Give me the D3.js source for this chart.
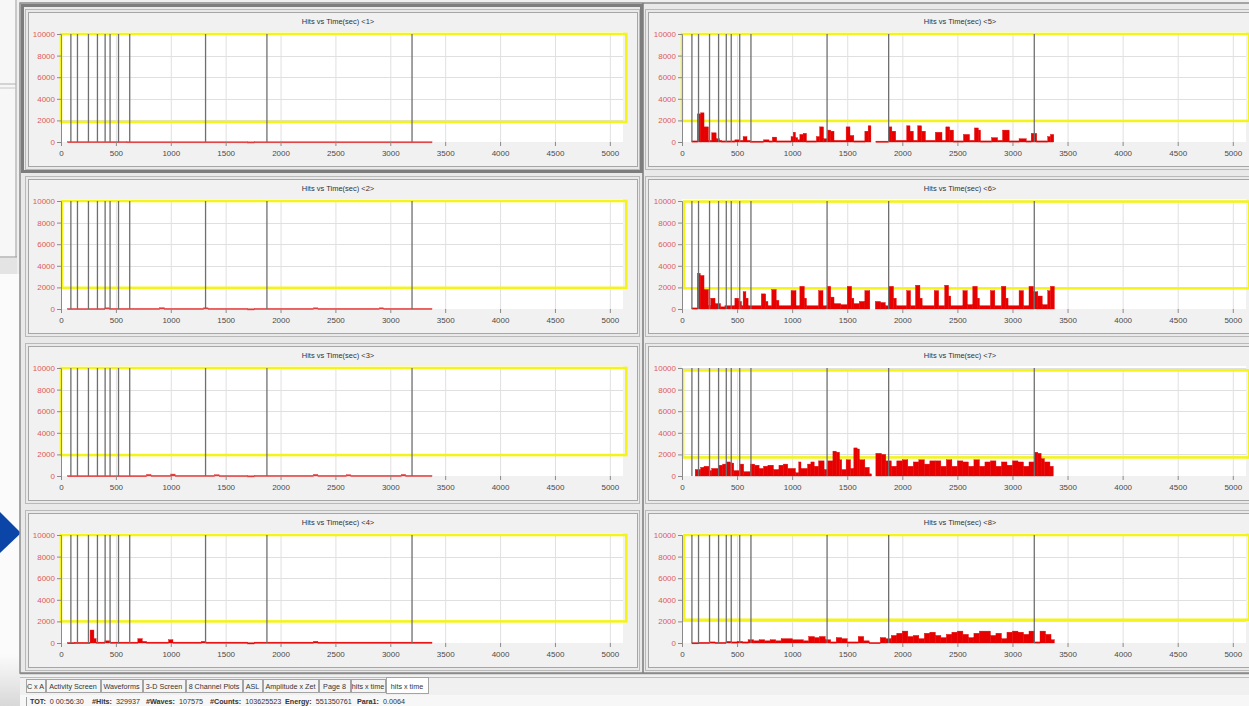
<!DOCTYPE html>
<html>
<head>
<meta charset="utf-8">
<script src="https://cdn.jsdelivr.net/npm/d3@7"></script>
<style>
  html, body { margin: 0; padding: 0; background: #f0f0f0; overflow: hidden; }
  svg { display: block; }
  text { font-family: "Liberation Sans Narrow", "Liberation Sans", Arial, sans-serif; }
</style>
</head>
<body>
<script>
// ---- data: hit counts per time step for each channel, [startSec, endSec, hits] ----
const channelNames = ["1", "2", "3", "4", "5", "6", "7", "8"];

const hits1 = [[60,600,40],[600,1700,30],[1700,1760,15],[1760,3380,30]];
const hits2 = [[60,400,50],[400,440,110],[440,900,60],[900,940,120],[940,1300,60],[1300,1340,110],[1340,1700,60],
  [1700,1760,20],[1760,2300,60],[2300,2340,110],[2340,2900,60],[2900,2940,110],[2940,3380,60]];
const hits3 = [[60,780,40],[780,820,150],[820,1000,60],[1000,1040,180],[1040,1400,60],[1400,1440,120],[1440,1700,50],
  [1700,1760,20],[1760,2300,60],[2300,2340,150],[2340,2600,60],[2600,2640,120],[2640,3100,60],[3100,3140,150],[3140,3380,60]];
const hits4 = [[60,120,40],[120,265,60],[265,300,1200],[300,320,400],[320,400,80],[400,450,200],[450,700,80],[700,740,400],
  [740,780,150],[780,980,80],[980,1020,300],[1020,1280,80],[1280,1320,150],[1320,1700,80],[1700,1760,20],[1760,2300,80],
  [2300,2340,150],[2340,3380,80]];
const hits5 = [[90,140,100],[140,170,2600],[170,200,2700],[200,240,1400],[240,270,150],[270,310,850],[310,340,300],
  [340,360,150],[360,480,100],[480,520,200],[520,555,150],[555,590,500],[590,620,150],[620,740,80],[740,790,200],
  [790,820,100],[820,860,450],[860,990,100],[990,1010,500],[1010,1030,900],[1030,1050,400],[1050,1070,200],
  [1070,1100,700],[1100,1130,800],[1130,1220,100],[1220,1250,500],[1250,1285,1400],[1285,1320,300],[1320,1350,1100],
  [1350,1380,1000],[1380,1490,150],[1490,1525,1400],[1525,1560,600],[1560,1660,100],[1660,1690,1000],[1690,1715,1500],
  [1715,1760,0],[1760,1875,80],[1875,1905,1400],[1905,1940,1000],[1940,2040,150],[2040,2070,1500],[2070,2100,1000],
  [2100,2140,150],[2140,2175,1500],[2175,2210,1000],[2210,2300,150],[2300,2360,900],[2360,2395,150],[2395,2430,1400],
  [2430,2465,1100],[2465,2555,100],[2555,2610,700],[2610,2655,150],[2655,2690,1300],[2690,2710,1100],[2710,2810,100],
  [2810,2865,400],[2865,2910,150],[2910,2970,1100],[2970,3060,100],[3060,3125,300],[3125,3170,100],[3170,3220,800],
  [3220,3320,100],[3320,3345,500],[3345,3375,700]];
const hits6 = [[90,140,100],[140,165,3300],[165,200,3100],[200,240,1800],[240,260,300],[260,300,1000],[300,350,500],
  [350,390,200],[390,480,300],[480,515,1000],[515,540,700],[540,555,300],[555,580,1600],[580,600,1000],[600,720,300],
  [720,760,1400],[760,780,700],[780,815,300],[815,855,1800],[855,880,800],[880,990,300],[990,1035,1700],[1035,1070,300],
  [1070,1110,2100],[1110,1130,1000],[1130,1240,300],[1240,1280,1700],[1280,1320,300],[1320,1350,2100],[1350,1380,1100],
  [1380,1440,500],[1440,1500,400],[1500,1540,2100],[1540,1560,1000],[1560,1610,500],[1610,1660,700],[1660,1705,1700],
  [1705,1755,0],[1755,1800,700],[1800,1845,600],[1845,1875,300],[1875,1920,2100],[1920,1945,1000],[1945,2040,300],
  [2040,2075,1700],[2075,2120,300],[2120,2160,2200],[2160,2180,1000],[2180,2290,300],[2290,2330,1700],[2330,2385,300],
  [2385,2420,2200],[2420,2440,1200],[2440,2550,300],[2550,2590,1700],[2590,2640,400],[2640,2680,2100],[2680,2700,1000],
  [2700,2800,300],[2800,2840,1700],[2840,2900,300],[2900,2940,2100],[2940,2960,1000],[2960,3060,300],[3060,3100,1700],
  [3100,3150,300],[3150,3190,2100],[3190,3230,1600],[3230,3270,1200],[3270,3320,400],[3320,3345,1700],[3345,3380,2100]];
const hits7 = [[120,170,600],[170,200,800],[200,250,900],[250,270,500],[270,330,700],[330,370,1000],[370,400,1100],
  [400,440,1300],[440,470,1200],[470,520,500],[520,560,1100],[560,620,400],[620,660,1100],[660,700,1000],[700,740,700],
  [740,780,900],[780,830,1000],[830,880,600],[880,920,1000],[920,960,1100],[960,1030,700],[1030,1060,300],[1060,1080,1300],
  [1080,1140,700],[1140,1170,1100],[1170,1200,1300],[1200,1240,900],[1240,1290,1400],[1290,1320,600],[1320,1370,1400],
  [1370,1400,2300],[1400,1430,2200],[1430,1450,1500],[1450,1490,600],[1490,1530,1500],[1530,1560,700],[1560,1590,2600],
  [1590,1610,2500],[1610,1660,1500],[1660,1700,800],[1700,1720,200],[1720,1760,0],[1760,1810,2100],[1810,1850,2000],
  [1850,1900,1400],[1900,1950,900],[1950,2000,1400],[2000,2050,1500],[2050,2100,900],[2100,2150,1300],[2150,2200,1500],
  [2200,2250,1100],[2250,2300,1400],[2300,2350,1400],[2350,2400,900],[2400,2450,1500],[2450,2500,900],[2500,2550,1400],
  [2550,2600,1300],[2600,2650,900],[2650,2700,1500],[2700,2750,900],[2750,2800,1300],[2800,2850,1400],[2850,2900,900],
  [2900,2950,1300],[2950,3000,1000],[3000,3050,1400],[3050,3100,1300],[3100,3150,900],[3150,3200,1300],[3200,3230,2200],
  [3230,3260,2100],[3260,3290,1600],[3290,3340,1300],[3340,3370,900]];
const hits8 = [[90,150,30],[150,250,60],[250,300,100],[300,400,60],[400,450,150],[450,500,100],[500,550,150],[550,600,100],
  [600,650,300],[650,700,200],[700,750,300],[750,800,200],[800,850,300],[850,900,200],[900,1000,400],[1000,1100,300],
  [1100,1150,200],[1150,1200,600],[1200,1250,500],[1250,1300,600],[1300,1350,300],[1350,1400,100],[1400,1450,500],
  [1450,1500,400],[1500,1600,100],[1600,1650,600],[1650,1700,200],[1700,1800,50],[1800,1850,500],[1850,1900,400],
  [1900,1950,700],[1950,2000,900],[2000,2050,1100],[2050,2100,600],[2100,2150,700],[2150,2200,400],[2200,2250,900],
  [2250,2300,1000],[2300,2350,700],[2350,2400,500],[2400,2450,800],[2450,2500,1000],[2500,2550,1100],[2550,2600,800],
  [2600,2650,500],[2650,2700,900],[2700,2800,1100],[2800,2850,700],[2850,2900,900],[2900,2950,400],[2950,3000,1000],
  [3000,3050,1100],[3050,3100,1000],[3100,3150,800],[3150,3200,1100],[3200,3250,100],[3250,3300,1100],[3300,3350,800],
  [3350,3380,300]];
const channelHits = [hits1, hits2, hits3, hits4, hits5, hits6, hits7, hits8];

// event markers (seconds), shared by all channels
const markerTimes = [90, 150, 250, 332, 402, 447, 524, 626, 1317, 1876, 3198];

// alarm window per channel: [startSec, endSec, lowHits, highHits]
const alarmWindows = [
  [0, 5150, 1850, 10000], [10, 5150, 1960, 10000], [0, 5150, 1940, 10000], [0, 5150, 2000, 10000],
  [0, 5150, 1950, 10000], [20, 5150, 1915, 9950], [10, 5150, 1720, 9780], [20, 5150, 2150, 10000]
];

const xTicks = [0, 500, 1000, 1500, 2000, 2500, 3000, 3500, 4000, 4500, 5000];
const yTicks = [0, 2000, 4000, 6000, 8000, 10000];

const tabLabels = ["C x A", "Activity Screen", "Waveforms", "3-D Screen", "8 Channel Plots", "ASL",
  "Amplitude x Zet", "Page 8", "hits x time", "hits x time"];
const statusItems = [["TOT:", "0 00:56:30"], ["#Hits:", "329937"], ["#Waves:", "107575"],
  ["#Counts:", "103625523"], ["Energy:", "551350761"], ["Para1:", "0.0064"]];

// ---- layout ----
const W = 1249, H = 706;
const svg = d3.select("body").append("svg").attr("width", W).attr("height", H);

svg.append("rect").attr("width", W).attr("height", H).attr("fill", "#efefef");

// left strip with parts of neighbouring windows
svg.append("rect").attr("x", 0).attr("y", 0).attr("width", 17).attr("height", 256).attr("fill", "#f7f7f7");
svg.append("line").attr("x1", 16).attr("x2", 16).attr("y1", 0).attr("y2", 257).attr("stroke", "#9a9a9a");
svg.append("line").attr("x1", 0).attr("x2", 16).attr("y1", 84).attr("y2", 84).attr("stroke", "#b0b0b0");
svg.append("line").attr("x1", 0).attr("x2", 16).attr("y1", 88).attr("y2", 88).attr("stroke", "#c8c8c8");
svg.append("line").attr("x1", 0).attr("x2", 17).attr("y1", 257).attr("y2", 257).attr("stroke", "#9a9a9a");
svg.append("rect").attr("x", 0).attr("y", 258).attr("width", 17).attr("height", 16).attr("fill", "#e4e4e4");
svg.append("rect").attr("x", 0).attr("y", 274).attr("width", 20).attr("height", 380).attr("fill", "#fbfbfb");
const fade = svg.append("defs").append("linearGradient").attr("id", "fade").attr("x1", 0).attr("x2", 0).attr("y1", 0).attr("y2", 1);
fade.append("stop").attr("offset", "0").attr("stop-color", "#fbfbfb");
fade.append("stop").attr("offset", "1").attr("stop-color", "#d8d8d8");
svg.append("rect").attr("x", 0).attr("y", 654).attr("width", 22).attr("height", 52).attr("fill", "url(#fade)");
svg.append("path").attr("d", "M0,512 L21,533 L0,553 Z").attr("fill", "#0b45a8");

// main window frame
svg.append("rect").attr("x", 20).attr("y", 3).attr("width", 1240).attr("height", 670)
  .attr("fill", "#e9e9e9").attr("stroke", "#8c8c8c").attr("stroke-width", 1.5);
svg.append("line").attr("x1", 643).attr("x2", 643).attr("y1", 3).attr("y2", 676)
  .attr("stroke", "#7a7a7a").attr("stroke-width", 1.5);

const rowPitch = 167;
const tickFont = 8;
const fmt = d3.format("d");

channelNames.forEach((name, i) => {
  const col = i < 4 ? 0 : 1;
  const row = i % 4;
  const top = 12 + row * rowPitch;
  const frameX0 = col === 0 ? 28 : 648;
  const frameX1 = col === 0 ? 637 : 1262;
  const plotX0 = col === 0 ? 61 : 682;
  const plotX1 = col === 0 ? 623 : 1246;

  const x = d3.scaleLinear().domain([0, 5120]).range([plotX0, plotX1]);
  const y = d3.scaleLinear().domain([0, 10000]).range([top + 130, top + 22]);

  const g = svg.append("g");

  if (i === 0) {
    // selected panel gets a heavy frame
    g.append("rect").attr("x", 22.5).attr("y", 5.5).attr("width", 619).attr("height", 166)
      .attr("fill", "none").attr("stroke", "#7d7d7d").attr("stroke-width", 3);
  }
  g.append("rect").attr("x", frameX0 - 2.5).attr("y", top - 2.5).attr("width", frameX1 - frameX0 + 5).attr("height", 160)
    .attr("fill", "none").attr("stroke", "#b9b9b9");
  g.append("rect").attr("x", frameX0 + 0.5).attr("y", top + 0.5).attr("width", frameX1 - frameX0).attr("height", 154)
    .attr("fill", "#f1f1f1").attr("stroke", "#a6a6a6");

  // plot background
  g.append("rect").attr("x", plotX0).attr("y", y(10000) - 2).attr("width", plotX1 - plotX0)
    .attr("height", y(0) - y(10000) + 2).attr("fill", "#ffffff");

  // grid
  g.append("g").selectAll("line").data(xTicks.filter(d => d > 0)).join("line")
    .attr("x1", d => x(d) + 0.5).attr("x2", d => x(d) + 0.5)
    .attr("y1", y(10000)).attr("y2", y(0))
    .attr("stroke", "#e0e0e0");
  g.append("g").selectAll("line").data(yTicks.filter(d => d > 0)).join("line")
    .attr("x1", plotX0).attr("x2", plotX1)
    .attr("y1", d => Math.round(y(d)) + 0.5).attr("y2", d => Math.round(y(d)) + 0.5)
    .attr("stroke", "#e0e0e0");

  // title
  g.append("text").attr("x", (plotX0 + plotX1) / 2 - 4).attr("y", top + 12)
    .attr("text-anchor", "middle").attr("font-size", 7.5).attr("fill", "#333")
    .text(`Hits vs Time(sec) <${name}>`);

  // alarm window
  const win = alarmWindows[i];
  g.append("rect").attr("x", x(win[0])).attr("y", y(win[3]))
    .attr("width", x(win[1]) - x(win[0])).attr("height", y(win[2]) - y(win[3]))
    .attr("fill", "none").attr("stroke", "#f4f41c").attr("stroke-width", 2.6);

  // hits histogram
  const barColor = i < 3 ? "#e23a3a" : "#e60000";
  g.append("g").selectAll("rect").data(channelHits[i]).join("rect")
    .attr("x", d => x(d[0])).attr("width", d => x(d[1]) - x(d[0]))
    .attr("y", d => y(d[2])).attr("height", d => Math.max(y(0) - y(d[2]), d[2] > 0 ? 1.2 : 0))
    .attr("fill", barColor).attr("stroke", barColor).attr("stroke-width", 0.4);

  // event markers
  g.append("g").selectAll("line").data(markerTimes).join("line")
    .attr("x1", d => x(d)).attr("x2", d => x(d))
    .attr("y1", y(0)).attr("y2", y(10000))
    .attr("stroke", "#6f6f6f").attr("stroke-width", 1.3);

  // axes
  const yAxis = g.append("g").attr("transform", `translate(${plotX0},0)`)
    .call(d3.axisLeft(y).tickValues(yTicks).tickFormat(fmt).tickSize(4).tickPadding(2));
  yAxis.select(".domain").attr("stroke", "#8a8a8a");
  yAxis.selectAll(".tick line").attr("stroke", "#8a8a8a");
  yAxis.selectAll(".tick text").attr("fill", "#e05a5a").attr("font-size", tickFont)
    .attr("font-family", "'Liberation Sans Narrow', 'Liberation Sans', sans-serif");

  const xAxis = g.append("g").attr("transform", `translate(0,${y(0)})`)
    .call(d3.axisBottom(x).tickValues(xTicks).tickFormat(fmt).tickSize(4).tickPadding(4));
  xAxis.select(".domain").remove();
  xAxis.selectAll(".tick line").attr("stroke", "#8a8a8a");
  xAxis.selectAll(".tick text").attr("fill", "#4a4a4a").attr("font-size", tickFont)
    .attr("font-family", "'Liberation Sans Narrow', 'Liberation Sans', sans-serif");
});

// bottom frame and tab strip
svg.append("rect").attr("x", 20).attr("y", 673).attr("width", 1240).attr("height", 33).attr("fill", "#f0f0f0");
svg.append("line").attr("x1", 20).attr("x2", W).attr("y1", 673.5).attr("y2", 673.5).attr("stroke", "#8a8a8a").attr("stroke-width", 1.5);
svg.append("line").attr("x1", 20).attr("x2", W).attr("y1", 677.5).attr("y2", 677.5).attr("stroke", "#bdbdbd");

const tabEdges = [26, 46, 101, 143, 186, 243, 263, 319, 351, 386, 429];
const tabs = svg.append("g");
tabLabels.forEach((label, k) => {
  const selected = k === tabLabels.length - 1;
  const x0 = tabEdges[k], x1 = tabEdges[k + 1] - 1;
  tabs.append("rect").attr("x", x0 + 0.5).attr("y", selected ? 677.5 : 679.5)
    .attr("width", x1 - x0).attr("height", selected ? 16 : 13)
    .attr("fill", selected ? "#ffffff" : "#f4f4f4").attr("stroke", "#a4a4a4");
  tabs.append("text").attr("x", (x0 + x1) / 2).attr("y", 689)
    .attr("text-anchor", "middle").attr("font-size", 7.2).attr("fill", "#333").text(label);
});

// status line
svg.append("rect").attr("x", 20).attr("y", 695).attr("width", 1240).attr("height", 11).attr("fill", "#f7f7f7");
svg.append("line").attr("x1", 26.5).attr("x2", 26.5).attr("y1", 697).attr("y2", 706).attr("stroke", "#a0a0a0");
const statusX = [30, 92, 146, 210, 285, 357];
statusItems.forEach((item, k) => {
  const t = svg.append("text").attr("x", statusX[k]).attr("y", 704).attr("font-size", 7.2).attr("fill", "#333");
  t.append("tspan").attr("font-weight", "bold").text(item[0]);
  t.append("tspan").attr("dx", 4).text(item[1]);
});
</script>
</body>
</html>
